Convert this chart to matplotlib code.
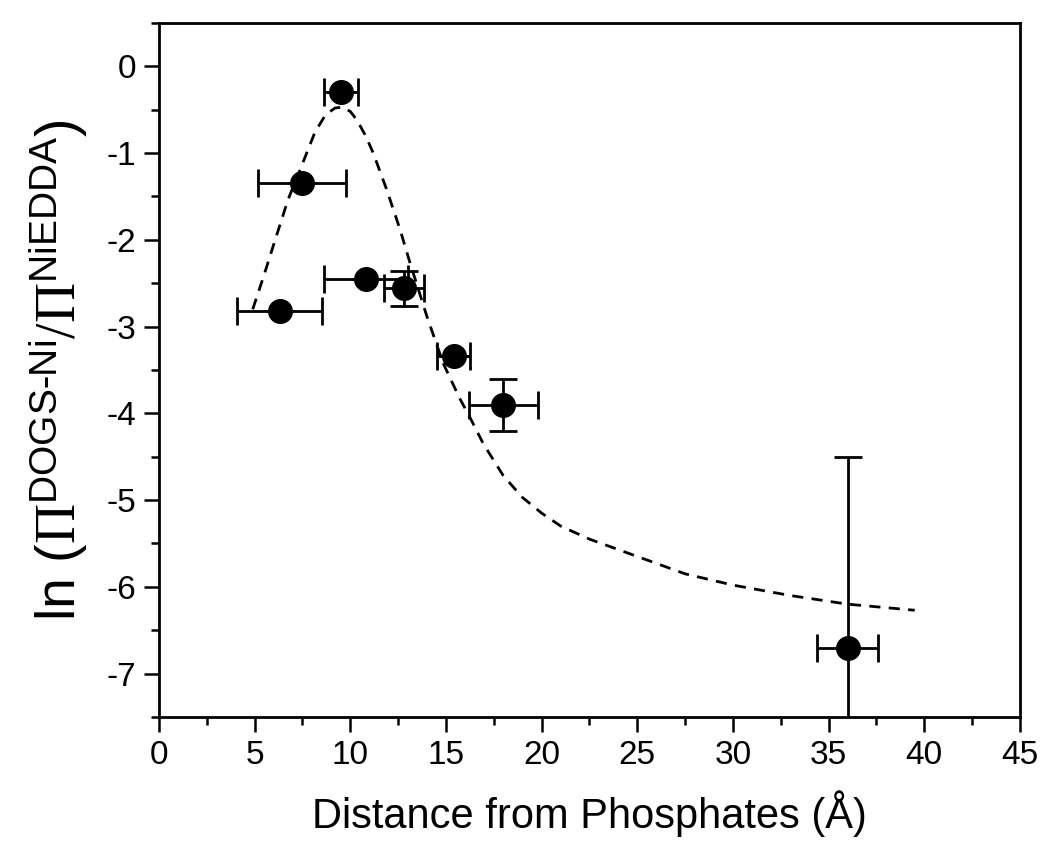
import matplotlib
matplotlib.use("Agg")
import matplotlib.pyplot as plt
from matplotlib.ticker import MultipleLocator

plt.rcParams['font.family'] = ['Liberation Sans', 'DejaVu Sans']
plt.rcParams['axes.unicode_minus'] = False
plt.rcParams['mathtext.fontset'] = 'custom'
plt.rcParams['mathtext.rm'] = 'Liberation Serif'
plt.rcParams['mathtext.sf'] = 'Liberation Sans'
plt.rcParams['mathtext.it'] = 'Liberation Serif:italic'

# measured points
dist = [9.5, 7.5, 6.3, 10.8, 12.8, 15.4, 18.0, 36.0]
ln_ratio = [-0.30, -1.35, -2.82, -2.45, -2.56, -3.34, -3.90, -6.70]
dist_err = [0.9, 2.3, 2.2, 2.2, 1.05, 0.88, 1.8, 1.6]
ratio_err = [0.0, 0.0, 0.0, 0.0, 0.2, 0.0, 0.3, 2.2]

# fitted curve
fit_x = [4.9, 5.5, 6.0, 6.74, 7.63, 8.15, 8.7, 9.2, 9.6, 10.0, 10.35, 10.8,
         11.2, 11.9, 12.6, 13.1, 14.0, 14.85, 15.7, 16.26, 16.95, 18.0,
         19.0, 20.0, 21.0, 22.5, 25.0, 27.5, 30.0, 33.0, 36.0, 39.5]
fit_y = [-2.80, -2.40, -2.05, -1.54, -1.05, -0.76, -0.56, -0.48, -0.47, -0.52,
         -0.62, -0.80, -1.00, -1.42, -1.88, -2.25, -2.88, -3.42, -3.82, -4.05,
         -4.35, -4.72, -4.97, -5.15, -5.30, -5.45, -5.65, -5.85, -5.98, -6.10,
         -6.20, -6.27]

fig = plt.figure(figsize=(10.5, 8.52), dpi=100)
ax = fig.add_axes([0.1514, 0.1585, 0.82, 0.8145])

ax.plot(fit_x, fit_y, color='black', lw=2, ls=(0, (4, 3)))
ax.errorbar(dist, ln_ratio, xerr=dist_err, yerr=ratio_err, fmt='o',
            color='black', ms=17, elinewidth=2, capsize=10, capthick=2)

ax.set_xlim(0, 45)
ax.set_ylim(-7.5, 0.5)
ax.xaxis.set_major_locator(MultipleLocator(5))
ax.xaxis.set_minor_locator(MultipleLocator(2.5))
ax.yaxis.set_major_locator(MultipleLocator(1))
ax.yaxis.set_minor_locator(MultipleLocator(0.5))

ax.tick_params(which='major', direction='out', length=10.5, width=1.8,
               labelsize=24, pad=6)
ax.tick_params(which='minor', direction='out', length=5.5, width=1.8)
for s in ax.spines.values():
    s.set_linewidth(2)

ax.set_xlabel('Distance from Phosphates (Å)', fontsize=30, labelpad=14)
ax.set_ylabel(r'ln ($\Pi^{\mathsf{DOGS\text{-}Ni}}/\Pi^{\mathsf{NiEDDA}}$)',
              fontsize=40, labelpad=12)

fig.savefig('out.png', dpi=100)
